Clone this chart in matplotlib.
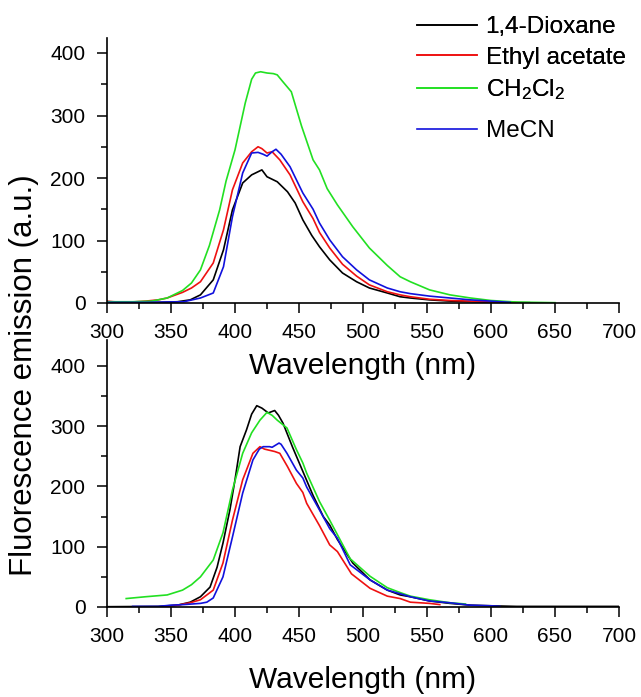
import matplotlib
matplotlib.use("Agg")
import matplotlib.pyplot as plt
from matplotlib.ticker import MultipleLocator

plt.rcParams['font.family'] = ['Liberation Sans', 'DejaVu Sans']
plt.rcParams['mathtext.fontset'] = 'custom'
plt.rcParams['mathtext.rm'] = 'Liberation Sans'
plt.rcParams['mathtext.it'] = 'Liberation Sans'

labels = ["1,4-Dioxane", "Ethyl acetate", "CH$_2$Cl$_2$", "MeCN"]
colors = ["#000000", "#ee1111", "#22e022", "#1111dd"]

# ---------- Top panel ----------
top_dioxane_wl = [300, 320, 340, 355, 365, 373, 383, 391, 398, 406, 413, 418, 421, 425, 433, 441, 447, 453, 460, 466, 474, 484, 495, 505, 519, 529, 537, 552, 568, 584, 600, 630]
top_dioxane_I = [1, 1, 1, 2, 5, 13, 37, 85, 149, 192, 205, 210, 213, 202, 194, 178, 160, 133, 108, 90, 69, 48, 34, 24, 16, 10, 8, 5, 3, 2, 1, 0.5]

top_etoac_wl = [300, 305, 315, 330, 340, 347, 359, 366, 373, 383, 391, 398, 406, 413, 418, 421, 425, 429, 435, 443, 453, 461, 466, 474, 484, 495, 505, 519, 529, 537, 552, 568, 584, 600, 620]
top_etoac_I = [3, 2, 1, 3, 5, 8, 17, 24, 34, 64, 117, 181, 224, 242, 250, 247, 240, 242, 229, 205, 162, 135, 113, 88, 62, 43, 29, 18, 13, 10, 6, 4, 3, 1.5, 0.5]

top_dcm_wl = [300, 320, 335, 347, 359, 366, 373, 380, 388, 393, 400, 408, 413, 416, 420, 425, 430, 433, 437, 444, 452, 461, 466, 472, 480, 492, 505, 519, 529, 537, 552, 568, 584, 600, 620, 650]
top_dcm_I = [2, 2, 3, 8, 20, 32, 53, 92, 149, 195, 245, 320, 358, 368, 370, 368, 367, 365, 355, 338, 283, 229, 213, 183, 157, 122, 88, 60, 42, 34, 21, 13, 8, 4, 1.5, 0.5]

top_mecn_wl = [300, 330, 360, 373, 383, 391, 398, 406, 413, 418, 422, 425, 429, 432, 436, 443, 453, 461, 466, 474, 484, 495, 505, 519, 529, 537, 552, 568, 584, 600, 615]
top_mecn_I = [1, 1, 2, 8, 16, 58, 138, 208, 240, 241, 238, 235, 242, 246, 238, 218, 176, 150, 128, 101, 74, 53, 37, 24, 18, 15, 11, 8, 5, 3, 1]

# ---------- Bottom panel ----------
bot_dioxane_wl = [300, 340, 355, 365, 373, 380.5, 386, 390.6, 396, 400, 404, 409, 413, 417, 421, 426, 431, 434, 437.5, 445, 453, 461, 469, 474, 480, 492, 505.5, 519, 529, 537, 552, 568, 584, 600, 620, 650, 700]
bot_dioxane_I = [0.5, 1, 3, 8, 17, 33, 66, 106, 161, 211, 266, 294, 320, 334, 330, 322, 326, 318, 305, 265, 225, 185, 150, 136, 112, 73, 45, 28, 20, 17, 10, 6, 3, 2, 1, 1, 1]

bot_etoac_wl = [345, 355, 365, 373, 383, 390.6, 398, 406, 414, 419.5, 423, 427, 431, 435, 441, 448, 453, 456, 466, 474, 480, 491, 505.5, 519, 529, 537, 552, 560]
bot_etoac_I = [1, 3, 7, 12, 28, 73, 144, 211, 255, 266, 262, 260, 258, 255, 233, 205, 190, 172, 135, 103, 92, 55, 31, 18, 14, 8, 6, 4]

bot_dcm_wl = [315, 330, 347, 359, 366, 373, 383, 390.6, 398, 406, 413, 419.5, 425, 429, 433, 440.6, 448, 453, 456, 466, 474, 479.5, 490, 505.5, 519, 529, 537, 552, 568, 580]
bot_dcm_I = [14, 17, 20, 28, 37, 50, 78, 123, 194, 255, 289, 310, 323, 318, 310, 297, 261, 239, 222, 175, 144, 122, 80, 51, 32, 24, 18, 12, 7, 5]

bot_mecn_wl = [320, 340, 350, 360, 373, 378, 383, 390.6, 398, 406, 414, 419, 422, 427, 429, 434.4, 436, 440.6, 448, 453, 456, 466, 474, 480, 490, 505.5, 519, 529, 537, 552, 568, 584, 600, 607]
bot_mecn_I = [1, 1, 3, 4, 6, 8, 15, 50, 116, 189, 244, 262, 266, 266, 265, 272, 270, 255, 227, 214, 199, 161, 130, 114, 70, 45, 28, 22, 17, 10, 7, 3, 2, 1]

x_ticks = [300, 350, 400, 450, 500, 550, 600, 650, 700]
y_ticks = [0, 100, 200, 300, 400]

W, H = 641, 697
fig = plt.figure(figsize=(W / 100, H / 100), dpi=100)

def px_axes(left, top, right, bottom):
    return fig.add_axes([left / W, 1 - bottom / H, (right - left) / W, (bottom - top) / H])

ax1 = px_axes(107, 38, 619, 303)
ax2 = px_axes(107, 340, 619, 607)

top_data = [(top_dioxane_wl, top_dioxane_I), (top_etoac_wl, top_etoac_I),
            (top_dcm_wl, top_dcm_I), (top_mecn_wl, top_mecn_I)]
bot_data = [(bot_dioxane_wl, bot_dioxane_I), (bot_etoac_wl, bot_etoac_I),
            (bot_dcm_wl, bot_dcm_I), (bot_mecn_wl, bot_mecn_I)]

handles = []
for (wl, I), c, lab in zip(top_data, colors, labels):
    h, = ax1.plot(wl, I, color=c, lw=1.2, label=lab)
    handles.append(h)
for (wl, I), c in zip(bot_data, colors):
    ax2.plot(wl, I, color=c, lw=1.2)

for ax, ytop, lpad in ((ax1, 424, 7), (ax2, 443, 14)):
    ax.set_xlim(300, 700)
    ax.set_ylim(0, ytop)
    ax.set_xticks(x_ticks)
    ax.set_yticks(y_ticks)
    ax.xaxis.set_minor_locator(MultipleLocator(25))
    ax.yaxis.set_minor_locator(MultipleLocator(50))
    for s in ('top', 'right'):
        ax.spines[s].set_visible(False)
    for s in ('left', 'bottom'):
        ax.spines[s].set_linewidth(1.2)
    ax.tick_params(which='major', direction='out', length=7, width=1.1, labelsize=15)
    ax.tick_params(axis='x', which='major', pad=7.5)
    ax.tick_params(axis='y', which='major', pad=8.5)
    ax.tick_params(which='minor', direction='out', length=4, width=1.1)
    ax.set_xlabel("Wavelength (nm)", fontsize=21.5, labelpad=lpad)
    ax.patch.set_alpha(0)

fig.text(24 / W, 1 - 375 / H, "Fluorescence emission (a.u.)", rotation=90,
         fontsize=22.5, ha='center', va='center')

leg_kw = dict(frameon=False, fontsize=17.5, handlelength=2.45, handletextpad=0.37,
              labelspacing=0.36, borderpad=0, borderaxespad=0)
leg1 = fig.legend(handles=handles[:3], loc='upper left',
                  bbox_to_anchor=(417 / W, 1 - 16 / H), **leg_kw)
fig.add_artist(leg1)
fig.legend(handles=handles[3:], loc='center left',
           bbox_to_anchor=(417 / W, 1 - 131 / H), **leg_kw)

fig.savefig("out.png", dpi=100)
